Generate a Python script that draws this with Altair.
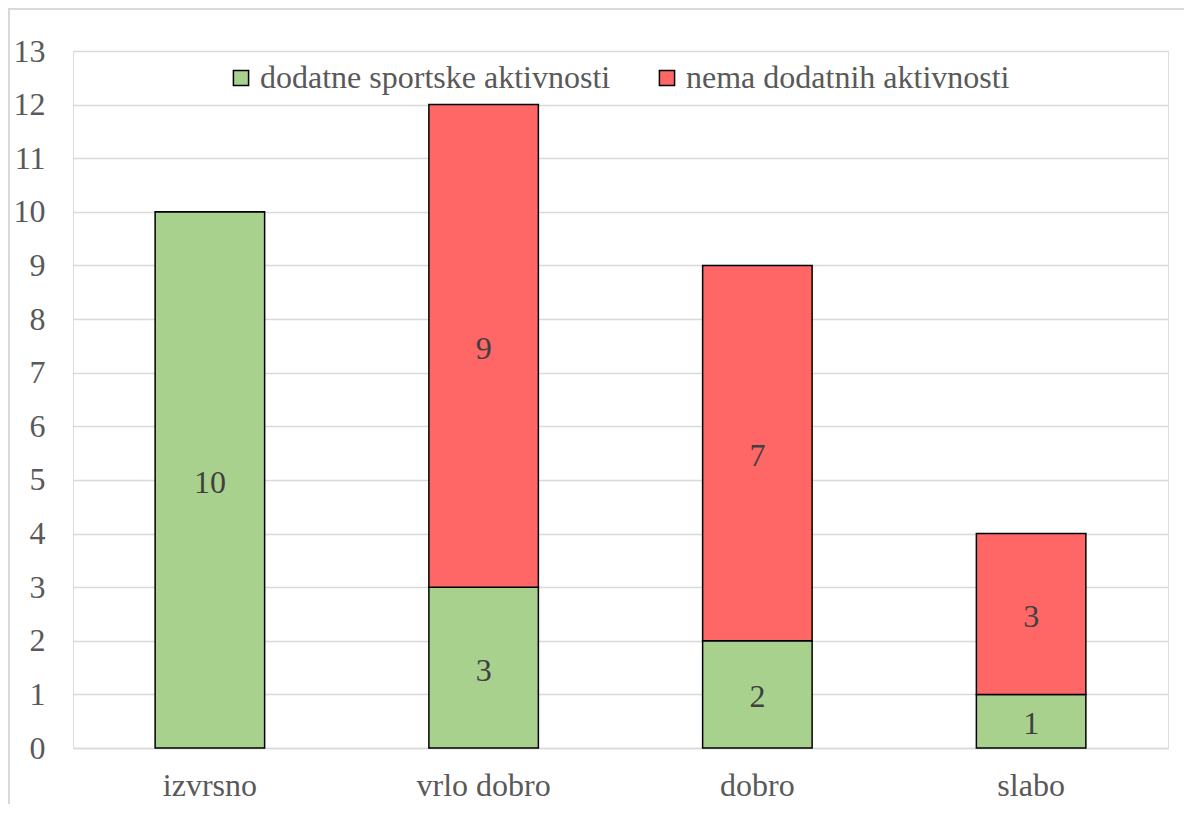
import altair as alt
import pandas as pd

categories = ["izvrsno", "vrlo dobro", "dobro", "slabo"]
series_names = ["dodatne sportske aktivnosti", "nema dodatnih aktivnosti"]
sport = [10, 3, 2, 1]
none_ = [0, 9, 7, 3]
colors = ["#A9D18E", "#FF6666"]

rows = []
for i, c in enumerate(categories):
    rows.append({"cat": c, "series": series_names[0], "value": sport[i], "ord": 0})
    rows.append({"cat": c, "series": series_names[1], "value": none_[i], "ord": 1})
df = pd.DataFrame(rows)

FONT = "Liberation Serif, DejaVu Serif, Noto Serif, FreeSerif, Times, serif"
FS = 32
W, H = 1095, 697

x = alt.X("cat:N", sort=categories, title=None,
          scale=alt.Scale(paddingInner=0.6, paddingOuter=0.3),
          axis=alt.Axis(labelAngle=0, labelFontSize=FS, labelColor="#595959",
                        labelFont=FONT, ticks=False, domain=True,
                        domainColor="#d9d9d9", domainWidth=1.5, labelPadding=22))
y = alt.Y("value:Q", stack="zero", title=None,
          scale=alt.Scale(domain=[0, 13], nice=False),
          axis=alt.Axis(values=list(range(14)), labelFontSize=FS, labelColor="#595959",
                        labelFont=FONT, ticks=False, domain=False, grid=True,
                        gridColor="#d9d9d9", gridWidth=1.5, labelPadding=28))

bars = alt.Chart(df).mark_bar(stroke="black", strokeWidth=1.5).encode(
    x=x, y=y,
    color=alt.Color("series:N", sort=series_names,
                    scale=alt.Scale(domain=series_names, range=colors),
                    legend=alt.Legend(title=None, orient="none", direction="horizontal",
                                      legendX=152, legendY=11, symbolType="square",
                                      symbolSize=230, symbolStrokeColor="black",
                                      symbolStrokeWidth=1.5, labelFontSize=FS,
                                      labelFont=FONT, labelColor="#595959",
                                      labelLimit=0, columnPadding=40, labelOffset=3)),
    order=alt.Order("ord:Q"),
)

labels = alt.Chart(df).transform_filter("datum.value > 0").transform_stack(
    stack="value", groupby=["cat"], sort=[alt.SortField("ord")], as_=["y0", "y1"]
).transform_calculate(mid="(datum.y0 + datum.y1) / 2").mark_text(
    fontSize=FS, font=FONT, color="#404040", baseline="middle", dy=3
).encode(
    x=alt.X("cat:N", sort=categories),
    y=alt.Y("mid:Q"),
    text="value:Q",
)

frame = alt.Chart(df).mark_rect(fill=None, stroke="#d9d9d9", strokeWidth=1.5, clip=False).encode(
    x=alt.value(-64), x2=alt.value(1200), y=alt.value(-42), y2=alt.value(H + 100)
)

chart = alt.layer(frame, bars, labels).properties(
    width=W, height=H,
    autosize=alt.AutoSizeParams(type="none"),
    padding={"left": 65, "top": 43, "right": 16, "bottom": 56},
).configure_view(stroke=None).configure(background="white", font=FONT)

chart.save("out.html", embed_options={"renderer": "svg", "actions": False})
